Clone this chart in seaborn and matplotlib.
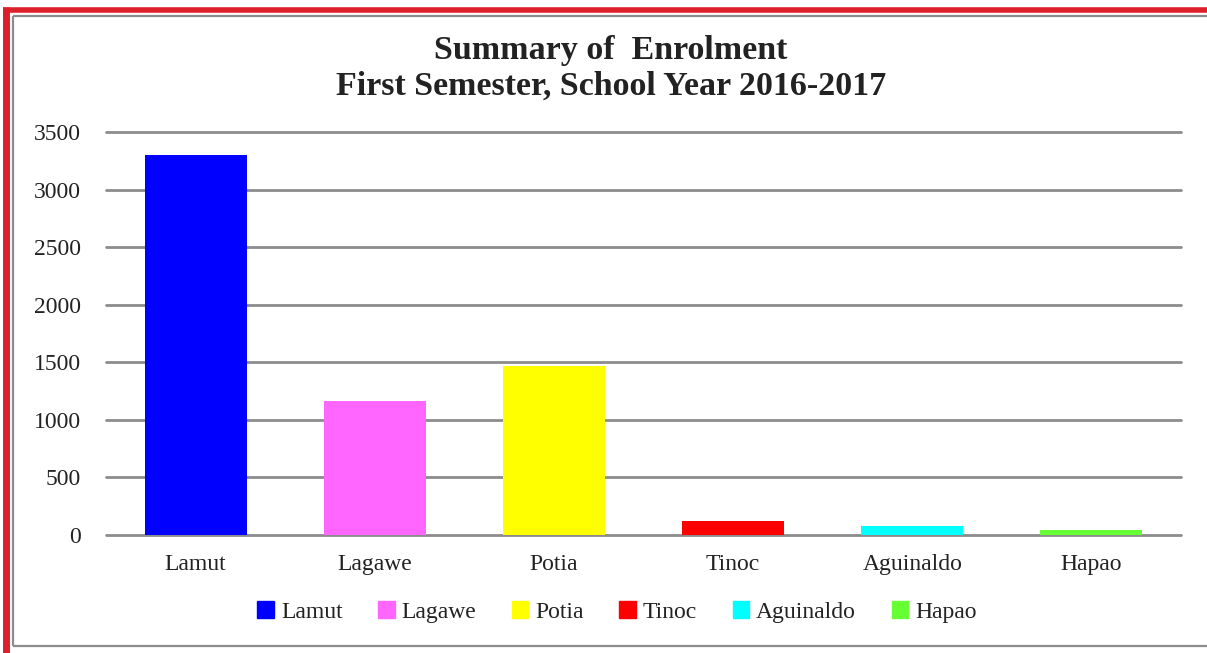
import matplotlib
matplotlib.use("Agg")
import matplotlib.pyplot as plt
import seaborn as sns
import pandas as pd
from matplotlib.lines import Line2D

categories = ["Lamut", "Lagawe", "Potia", "Tinoc", "Aguinaldo", "Hapao"]
enrolment = [3300, 1165, 1470, 122, 78, 40]
colors = ["#0000ff", "#ff66ff", "#ffff00", "#ff0000", "#00ffff", "#66ff33"]
yticks = [0, 500, 1000, 1500, 2000, 2500, 3000, 3500]

df = pd.DataFrame({"School": categories, "Enrolment": enrolment})

sns.set_style("white")
plt.rcParams["font.family"] = ["Liberation Serif", "DejaVu Serif"]

W, H = 1207, 653
fig = plt.figure(figsize=(W / 100, H / 100), dpi=100)
ax = fig.add_axes([106 / W, 1 - 535 / H, (1181 - 106) / W, (535 - 132) / H])

sns.barplot(data=df, x="School", y="Enrolment", hue="School",
            palette=colors, dodge=False, width=0.57, ax=ax, legend=False,
            saturation=1, linewidth=0)

ax.set_ylim(0, 3500)
ax.set_xlim(-0.5, len(categories) - 0.5)
ax.set_yticks(yticks)
ax.set_yticklabels([str(t) for t in yticks], fontsize=17, color="#222222")
ax.tick_params(axis="x", labelsize=17, colors="#222222", length=0, pad=14)
ax.tick_params(axis="y", length=0, pad=18)
ax.set_xlabel("")
ax.set_ylabel("")
ax.grid(axis="y", color="#8c8c8c", linewidth=2)
for gl in ax.get_ygridlines():
    gl.set_clip_on(False)
ax.set_axisbelow(True)
for s in ax.spines.values():
    s.set_visible(False)

fig.text(611 / W, 1 - 50 / H, "Summary of  Enrolment", ha="center", va="center",
         fontsize=24.5, fontweight="bold", color="#222222")
fig.text(611 / W, 1 - 86 / H, "First Semester, School Year 2016-2017", ha="center",
         va="center", fontsize=24.5, fontweight="bold", color="#222222")

handles = [plt.Rectangle((0, 0), 1, 1, color=c) for c in colors]
fig.legend(handles, categories, loc="center", bbox_to_anchor=(617 / W, 1 - 612 / H),
           ncol=6, frameon=False, fontsize=17, handlelength=0.7, handleheight=0.7,
           handletextpad=0.3, columnspacing=1.5, labelcolor="#222222")

# borders
kw = dict(transform=fig.transFigure, solid_capstyle="butt")
fig.add_artist(Line2D([6 / W, 6 / W], [0, 1 - 7 / H], color="#dc1f2a", linewidth=5, **kw))
fig.add_artist(Line2D([3 / W, 1], [1 - 9.5 / H, 1 - 9.5 / H], color="#dc1f2a", linewidth=4, **kw))
fig.add_artist(Line2D([13 / W, 1], [1 - 16 / H, 1 - 16 / H], color="#8c8c8c", linewidth=1.6, **kw))
fig.add_artist(Line2D([13 / W, 13 / W], [1 - 646 / H, 1 - 16 / H], color="#8c8c8c", linewidth=1.6, **kw))
fig.add_artist(Line2D([13 / W, 1], [1 - 646 / H, 1 - 646 / H], color="#8c8c8c", linewidth=1.6, **kw))

fig.savefig("out.png", dpi=100)
